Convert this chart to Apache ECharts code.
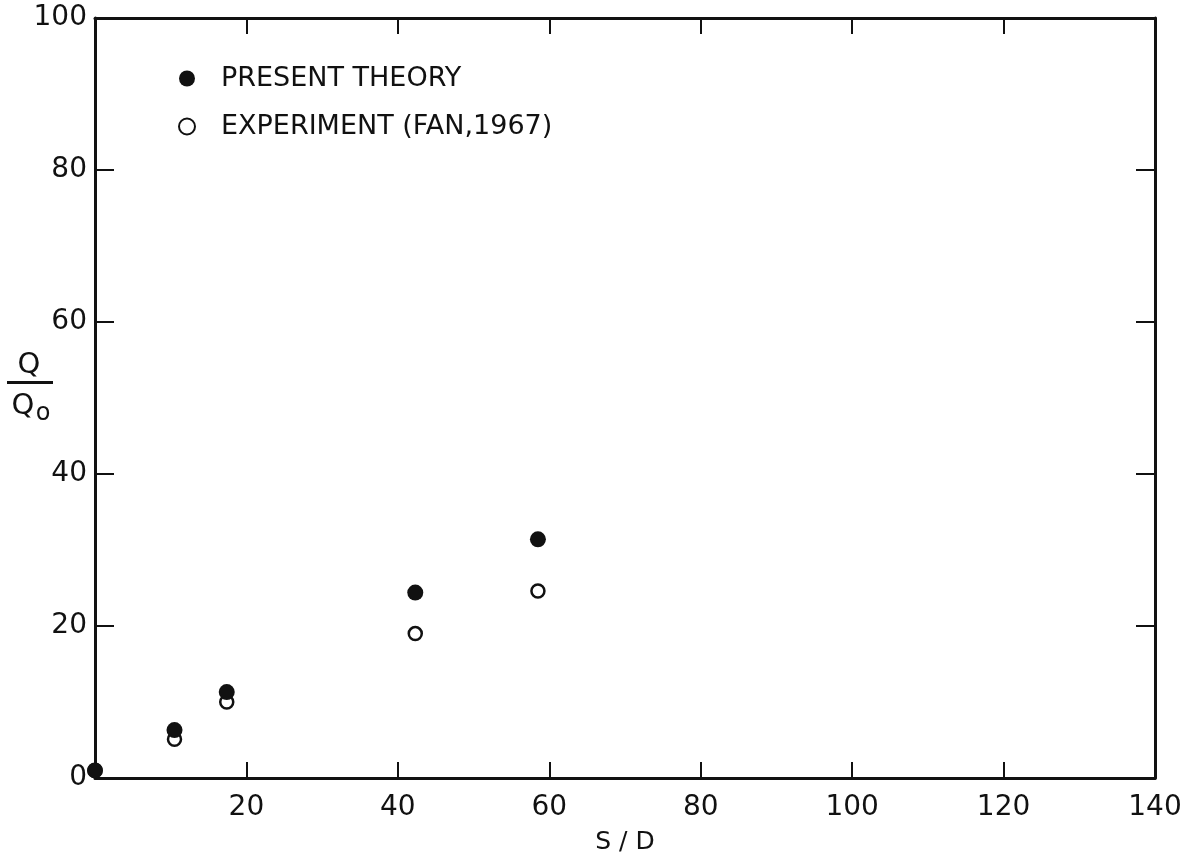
<!DOCTYPE html>
<html>
<head>
<meta charset="utf-8">
<script src="https://cdn.jsdelivr.net/npm/echarts@6/dist/echarts.min.js"></script>
<style>html,body{margin:0;padding:0;background:#fff;}#c{width:1194px;height:858px;}</style>
</head>
<body>
<div id="c"></div>
<script>
const sd = [0, 10.5, 17.4, 42.3, 58.5];
const theory = [1, 6.3, 11.3, 24.4, 31.4];
const experiment = [1, 5.1, 10.0, 19.0, 24.6];
const xTicks = [0, 20, 40, 60, 80, 100, 120, 140];
const yTicks = [0, 20, 40, 60, 80, 100];
const seriesNames = ['PRESENT THEORY', 'EXPERIMENT (FAN,1967)'];
const yTitle = { num: 'Q', den: 'Q', sub: 'o' };
const xTitle = 'S / D';

const FONT = 'DejaVu Sans';
const INK = '#111';
const pairs = (xs, ys) => xs.map((x, i) => [x, ys[i]]);

const axisLine = { show: true, onZero: false, lineStyle: { color: INK, width: 3 } };
const tick = (len) => ({ show: true, inside: true, length: len, lineStyle: { color: INK, width: 2 } });

const chart = echarts.init(document.getElementById('c'), null, { renderer: 'canvas' });
chart.setOption({
  animation: false,
  backgroundColor: '#fff',
  grid: { left: 95, right: 39, top: 18, bottom: 80, containLabel: false, outerBoundsMode: 'none' },
  legend: {
    orient: 'vertical',
    left: 173,
    top: 60,
    itemWidth: 50,
    itemHeight: 16,
    itemGap: 21,
    data: [
      { name: seriesNames[0], icon: 'circle' },
      { name: seriesNames[1], icon: 'circle' }
    ],
    textStyle: { fontFamily: FONT, fontSize: 27, color: INK, padding: [0, 0, 0, 4] }
  },
  graphic: [
    { type: 'text', x: 29, y: 365, style: { text: yTitle.num, font: '29px "DejaVu Sans"', fill: INK, align: 'center', verticalAlign: 'middle' } },
    { type: 'rect', shape: { x: 7, y: 381, width: 46, height: 3 }, style: { fill: INK } },
    { type: 'text', x: 23, y: 406, style: { text: yTitle.den, font: '29px "DejaVu Sans"', fill: INK, align: 'center', verticalAlign: 'middle' } },
    { type: 'text', x: 43, y: 414, style: { text: yTitle.sub, font: '24px "DejaVu Sans"', fill: INK, align: 'center', verticalAlign: 'middle' } }
  ],
  xAxis: [
    {
      type: 'value', min: xTicks[0], max: xTicks[xTicks.length - 1], interval: 20,
      position: 'bottom',
      name: xTitle, nameLocation: 'middle', nameGap: 64,
      nameTextStyle: { fontFamily: FONT, fontSize: 25, color: INK, verticalAlign: 'middle', align: 'center' },
      axisLine, axisTick: tick(16), splitLine: { show: false },
      axisLabel: { fontFamily: FONT, fontSize: 28, color: INK, margin: 16,
        formatter: v => (v === 0 ? '' : String(v)) }
    },
    {
      type: 'value', min: xTicks[0], max: xTicks[xTicks.length - 1], interval: 20,
      position: 'top',
      axisLine, axisTick: tick(16), splitLine: { show: false }, axisLabel: { show: false }
    }
  ],
  yAxis: [
    {
      type: 'value', min: yTicks[0], max: yTicks[yTicks.length - 1], interval: 20,
      position: 'left',
      axisLine, axisTick: tick(19), splitLine: { show: false },
      axisLabel: { fontFamily: FONT, fontSize: 28, color: INK, margin: 8 }
    },
    {
      type: 'value', min: yTicks[0], max: yTicks[yTicks.length - 1], interval: 20,
      position: 'right',
      axisLine, axisTick: tick(19), splitLine: { show: false }, axisLabel: { show: false }
    }
  ],
  series: [
    {
      name: seriesNames[1], type: 'scatter', xAxisIndex: 0, yAxisIndex: 0,
      symbol: 'circle', symbolSize: 13, z: 2,
      itemStyle: { color: '#fff', borderColor: INK, borderWidth: 2.5, opacity: 1 },
      data: pairs(sd, experiment)
    },
    {
      name: seriesNames[0], type: 'scatter', xAxisIndex: 0, yAxisIndex: 0,
      symbol: 'circle', symbolSize: 16, z: 3,
      itemStyle: { color: INK, opacity: 1 },
      data: pairs(sd, theory)
    }
  ]
});
</script>
</body>
</html>
